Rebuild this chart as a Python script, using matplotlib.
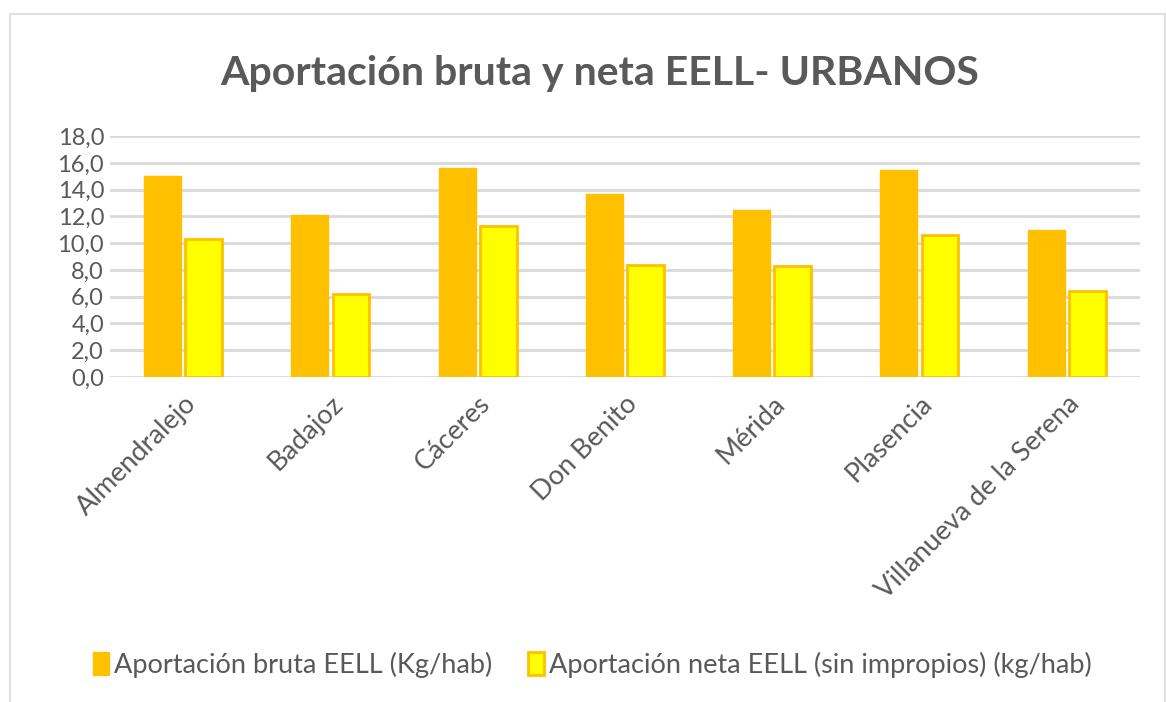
import matplotlib.pyplot as plt
from matplotlib.patches import Rectangle
import numpy as np

municipios = ["Almendralejo", "Badajoz", "Cáceres", "Don Benito", "Mérida",
              "Plasencia", "Villanueva de la Serena"]
bruta = [15.0, 12.1, 15.6, 13.7, 12.5, 15.5, 11.0]
neta = [10.3, 6.2, 11.3, 8.4, 8.3, 10.6, 6.4]
yticks = np.arange(0, 18.1, 2)

plt.rcParams['font.family'] = ['Lato', 'DejaVu Sans']
gris = '#595959'

fig = plt.figure(figsize=(11.66, 7.02), dpi=100)
fig.patches.append(Rectangle((0.009, -0.01), 0.99, 0.99, transform=fig.transFigure,
                             fill=False, edgecolor='#d9d9d9', lw=1.2))
ax = fig.add_axes([0.094, 0.463, 0.884, 0.343])

x = np.arange(len(municipios))
w = 0.25
ax.bar(x - w / 2 - 0.015, bruta, w, color='#ffc000', edgecolor='#ffc000', zorder=3)
ax.bar(x + w / 2 + 0.015, neta, w, color='#ffff00', edgecolor='#ffc000', lw=2, zorder=3)

ax.set_xlim(-0.5, len(municipios) - 0.5)
ax.set_ylim(0, 18)
ax.set_yticks(yticks)
ax.set_yticklabels([f"{v:.1f}".replace('.', ',') for v in yticks], fontsize=17, color=gris)
ax.set_xticks(x)
ax.set_xticklabels(municipios, rotation=45, ha='right', rotation_mode='anchor',
                   fontsize=19.5, color=gris)
ax.tick_params(axis='x', length=0, pad=10)
ax.tick_params(axis='y', length=0, pad=4)
ax.yaxis.grid(True, color='#d9d9d9', lw=2, zorder=0)
for s in ax.spines.values():
    s.set_visible(False)

fig.text(0.514, 0.895, "Aportación bruta y neta EELL- URBANOS", ha='center', va='center',
         fontsize=29.5, fontweight='bold', color=gris)

h1 = Rectangle((0, 0), 1, 1, facecolor='#ffc000', edgecolor='#ffc000')
h2 = Rectangle((0, 0), 1, 1, facecolor='#ffff00', edgecolor='#ffc000', lw=2)
fig.legend([h1, h2], ["Aportación bruta EELL (Kg/hab)",
                      "Aportación neta EELL (sin impropios) (kg/hab)"],
           loc='center', bbox_to_anchor=(0.508, 0.053), ncol=2, frameon=False,
           fontsize=19.5, labelcolor=gris, handlelength=0.6, handleheight=0.9,
           handletextpad=0.2, columnspacing=1.3)

fig.savefig("out.png", dpi=100)
